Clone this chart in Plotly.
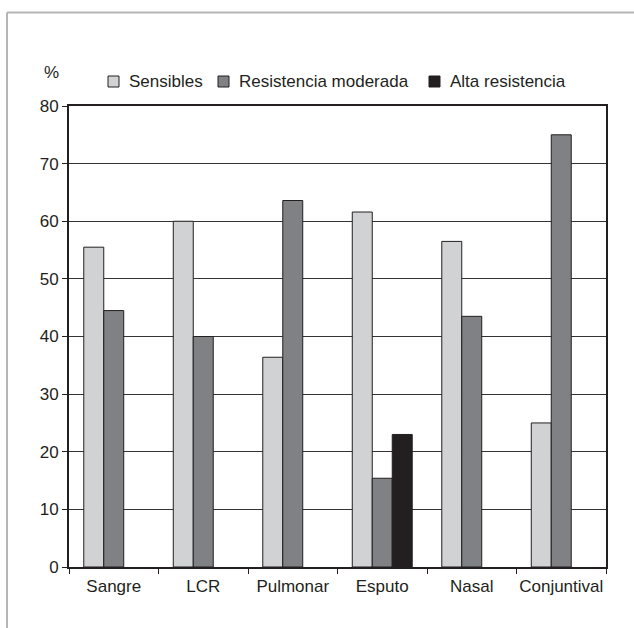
import plotly.graph_objects as go

categories = ["Sangre", "LCR", "Pulmonar", "Esputo", "Nasal", "Conjuntival"]
sensibles = [55.5, 60.0, 36.4, 61.6, 56.5, 25.0]
moderada = [44.5, 40.0, 63.6, 15.4, 43.5, 75.0]
alta = [None, None, None, 23.0, None, None]
series_names = ["Sensibles", "Resistencia moderada", "Alta resistencia"]
series_colors = ["#d1d2d4", "#808184", "#231f20"]
y_ticks = [0, 10, 20, 30, 40, 50, 60, 70, 80]

W, H = 634, 628
ML, MR, MT, MB = 69, 28, 106, 61
pw, ph = W - ML - MR, H - MT - MB

font = dict(family="Liberation Sans, Arial, sans-serif", size=17, color="#231f20")

fig = go.Figure()
for name, vals, col in zip(series_names, [sensibles, moderada, alta], series_colors):
    fig.add_trace(go.Bar(x=categories, y=vals, name=name, showlegend=False,
                         marker=dict(color=col, line=dict(color="#231f20", width=1))))

def px_x(p):
    return (p - ML) / pw

def px_y(p):
    return 1 - (p - MT) / ph

# manual legend (swatch left edges in pixels)
legend_x = [108, 218, 429]
annotations = [dict(text="%", x=px_x(51), y=px_y(73), xref="paper", yref="paper",
                    showarrow=False, font=font, xanchor="center", yanchor="middle")]
shapes = [
    dict(type="line", xref="paper", yref="paper", x0=px_x(7), x1=px_x(640), y0=px_y(12.5), y1=px_y(12.5),
         line=dict(color="#b5b5b5", width=2)),
    dict(type="line", xref="paper", yref="paper", x0=px_x(7), x1=px_x(7), y0=px_y(12.5), y1=px_y(640),
         line=dict(color="#b5b5b5", width=2)),
]
for lx, name, col in zip(legend_x, series_names, series_colors):
    shapes.append(dict(type="rect", xref="paper", yref="paper",
                       x0=px_x(lx), x1=px_x(lx + 11), y0=px_y(76), y1=px_y(87),
                       fillcolor=col, line=dict(color="#231f20", width=1)))
    annotations.append(dict(text=name, x=px_x(lx + 19), y=px_y(81.5), xref="paper", yref="paper",
                            showarrow=False, font=font, xanchor="left", yanchor="middle"))

fig.update_layout(
    width=W, height=H,
    margin=dict(l=ML, r=MR, t=MT, b=MB, pad=0, autoexpand=False),
    paper_bgcolor="white", plot_bgcolor="white",
    font=font,
    barmode="group", bargap=0.33, bargroupgap=0,
    showlegend=False,
    xaxis=dict(type="category", showline=True, linecolor="#231f20", linewidth=2, mirror=True,
               ticks="outside", tickson="boundaries", ticklen=5, tickcolor="#231f20",
               tickfont=font, showgrid=False, tickangle=0, automargin=False,
               ticklabelstandoff=3),
    yaxis=dict(range=[0, 80], tickvals=y_ticks, showline=True, linecolor="#231f20", linewidth=2,
               mirror=True, ticks="outside", ticklen=5, tickcolor="#231f20", tickfont=font,
               showgrid=True, gridcolor="#333333", gridwidth=1, zeroline=False, automargin=False),
    annotations=annotations,
    shapes=shapes,
)

fig.write_html("out.html", config={"displayModeBar": False},
               post_script="document.body.style.margin='0px';")
